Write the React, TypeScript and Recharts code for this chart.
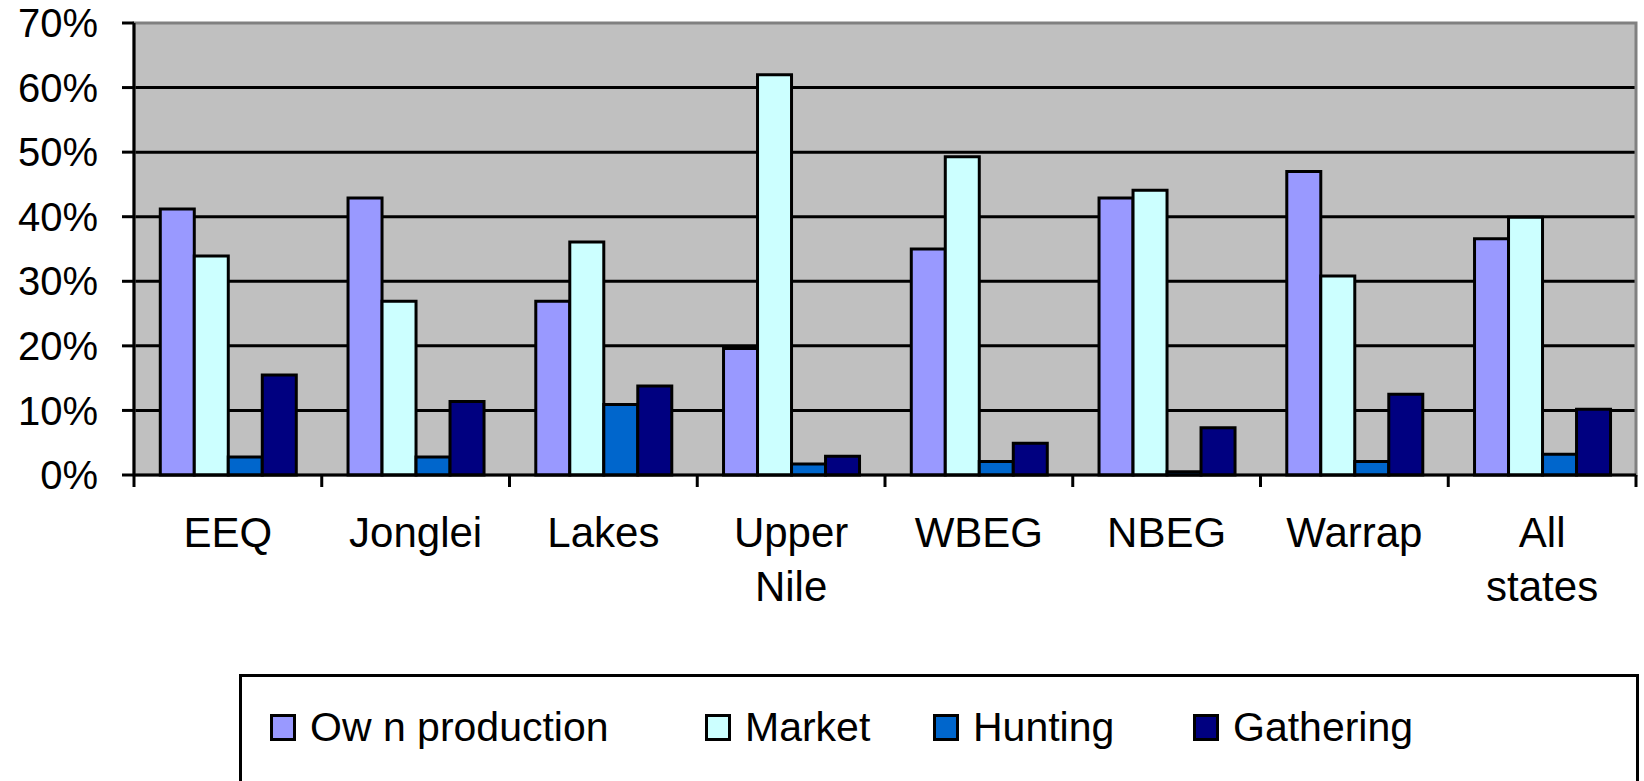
import { BarChart, Bar, XAxis, YAxis, CartesianGrid, Legend, ReferenceArea } from "recharts";

const states = ["EEQ", "Jonglei", "Lakes", "Upper Nile", "WBEG", "NBEG", "Warrap", "All states"];
const ownProduction = [41.2, 42.9, 26.9, 19.6, 35.0, 42.9, 47.0, 36.6];
const market = [33.9, 26.9, 36.1, 62.0, 49.3, 44.1, 30.8, 39.9];
const hunting = [2.8, 2.8, 10.9, 1.7, 2.1, 0.5, 2.1, 3.2];
const gathering = [15.5, 11.4, 13.8, 2.9, 4.9, 7.3, 12.5, 10.2];
const yTicks = [0, 10, 20, 30, 40, 50, 60, 70];
const gridValues = [10, 20, 30, 40, 50, 60];

// legend item widths keep the swatches where the original put them
const series = [
    { key: "own", label: "Ow n production", color: "#9999FF", itemWidth: 435 },
    { key: "market", label: "Market", color: "#CCFFFF", itemWidth: 228 },
    { key: "hunting", label: "Hunting", color: "#0066CC", itemWidth: 260 },
    { key: "gathering", label: "Gathering", color: "#000080", itemWidth: 260 },
];

const data = states.map((name, i) => ({
    name,
    own: ownProduction[i],
    market: market[i],
    hunting: hunting[i],
    gathering: gathering[i],
}));

const FONT = "Arial, 'Liberation Sans', Helvetica, sans-serif";
const W = 1644;
const H = 781;

function StateTick(props: any) {
    const { x, y, payload, index } = props;
    const half = payload?.offset ?? (W - 8 - 134) / states.length / 2;
    const words = String(payload.value).split(" ");
    return (
        <g>
            <line x1={x - half} y1={y} x2={x - half} y2={y + 12} stroke="#000" strokeWidth={3} />
            {index === states.length - 1 && (
                <line x1={x + half} y1={y} x2={x + half} y2={y + 12} stroke="#000" strokeWidth={3} />
            )}
            <text x={x} y={y} textAnchor="middle" fontSize={42} fill="#000">
                {words.map((w, i) => (
                    <tspan key={i} x={x} dy={i === 0 ? 72 : 54}>
                        {w}
                    </tspan>
                ))}
            </text>
        </g>
    );
}

function LegendBox() {
    return (
        <div style={{ border: "3px solid #000", height: 130, boxSizing: "border-box", background: "#fff" }}>
            <div style={{ height: 100, display: "flex", alignItems: "center", paddingLeft: 28 }}>
                {series.map((s) => (
                    <div key={s.key} style={{ display: "flex", alignItems: "center", width: s.itemWidth, flex: "none" }}>
                        <span
                            style={{
                                width: 20,
                                height: 21,
                                background: s.color,
                                border: "3px solid #000",
                                display: "inline-block",
                                marginRight: 14,
                                flex: "none",
                            }}
                        />
                        <span style={{ fontSize: 41, color: "#000", whiteSpace: "pre" }}>{s.label}</span>
                    </div>
                ))}
            </div>
        </div>
    );
}

export default function App() {
    return (
        <div
            style={{
                position: "absolute",
                left: 0,
                top: 0,
                width: W,
                height: H,
                overflow: "hidden",
                background: "#fff",
                fontFamily: FONT,
            }}
        >
            <BarChart
                width={W}
                height={H}
                data={data}
                margin={{ top: 23, right: 8, bottom: 0, left: 0 }}
                barCategoryGap="14%"
                barGap={0}
            >
                <CartesianGrid
                    vertical={false}
                    horizontalValues={gridValues}
                    fill="#C0C0C0"
                    fillOpacity={1}
                    stroke="#000"
                    strokeWidth={3}
                />
                <ReferenceArea y1={0} y2={70} fill="none" stroke="#808080" strokeWidth={3} />
                <XAxis
                    dataKey="name"
                    height={306}
                    interval={0}
                    tickLine={false}
                    tickSize={0}
                    tickMargin={0}
                    axisLine={{ stroke: "#000", strokeWidth: 3 }}
                    tick={<StateTick />}
                />
                <YAxis
                    width={134}
                    domain={[0, 70]}
                    ticks={yTicks}
                    interval={0}
                    tickFormatter={(v) => `${v}%`}
                    tickSize={12}
                    tickMargin={24}
                    tickLine={{ stroke: "#000", strokeWidth: 3 }}
                    axisLine={{ stroke: "#000", strokeWidth: 3 }}
                    tick={{ fill: "#000", fontSize: 40 }}
                />
                <Legend
                    layout="horizontal"
                    verticalAlign="middle"
                    align="center"
                    wrapperStyle={{ left: 239, top: 674, width: 1400, height: 130 }}
                    content={<LegendBox />}
                />
                {series.map((s) => (
                    <Bar
                        key={s.key}
                        dataKey={s.key}
                        name={s.label}
                        fill={s.color}
                        stroke="#000"
                        strokeWidth={3}
                        isAnimationActive={false}
                    />
                ))}
            </BarChart>
        </div>
    );
}
